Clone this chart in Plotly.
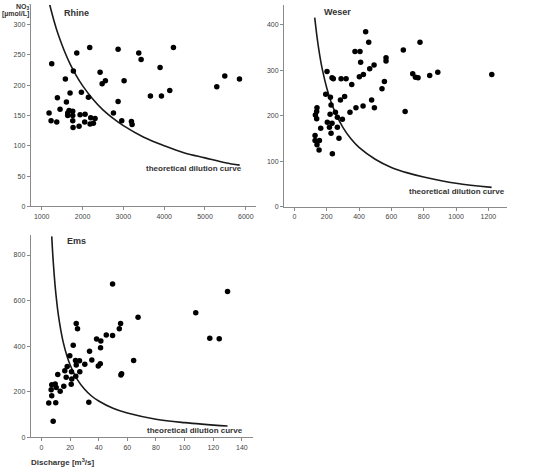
import plotly.graph_objects as go

# ---------------- data ----------------
rhine_q = [1180, 1245, 1229, 1368, 1384, 1449, 1580, 1605, 1694, 1776, 1858, 1637, 1670, 1760,
           1760, 1637, 1760, 1768, 1915, 1972, 1940, 2062, 2053, 2144, 2176, 2200, 2185, 2266,
           2307, 2430, 2480, 2560, 2757, 2871, 2871, 2961, 3018, 3198, 3214, 3377, 3435, 3663,
           3900, 3933, 4137, 4227, 5289, 5485, 5845]
rhine_no3 = [154, 235, 141, 139, 179, 160, 210, 172, 187, 223, 253, 154, 158, 157,
             150, 150, 141, 130, 132, 188, 151, 152, 139, 180, 262, 146, 136, 137,
             145, 221, 202, 207, 154, 173, 259, 141, 207, 140, 135, 253, 242, 182,
             229, 182, 191, 262, 197, 215, 210]

weser_q = [202, 194, 223, 227, 221, 204, 217, 233, 227, 235, 233, 241, 254, 266, 266, 276,
           289, 320, 285, 311, 297, 355, 344, 375, 406, 381, 410, 402, 427, 425, 441, 460,
           466, 478, 493, 495, 542, 557, 567, 567, 674, 685, 732, 749, 765, 777, 837, 887,
           1221, 140, 138, 130, 138, 128, 128, 140, 155, 153, 163]
weser_no3 = [298, 248, 241, 224, 204, 186, 175, 184, 162, 117, 284, 282, 208, 197, 175, 151,
             282, 282, 235, 243, 193, 269, 208, 342, 342, 218, 318, 286, 291, 222, 385, 362,
             304, 235, 312, 218, 260, 276, 328, 321, 345, 210, 293, 285, 284, 362, 289, 296,
             291, 218, 210, 202, 194, 157, 146, 137, 146, 125, 173]

ems_q = [5.1, 7.2, 6.8, 7.2, 8.2, 10.0, 9.6, 10.3, 11.4, 13.1, 15.6, 16.3, 17.3, 18.0, 19.8,
         21.0, 21.2, 20.8, 22.2, 23.8, 24.3, 24.0, 24.3, 25.2, 26.6, 26.8, 30.3, 33.1, 33.6,
         35.2, 38.5, 39.7, 41.1, 41.3, 41.5, 45.3, 49.7, 49.7, 54.4, 55.3, 55.5, 56.0, 64.4,
         67.5, 107.8, 117.6, 124.2, 130.0]
ems_no3 = [150, 182, 208, 230, 70, 151, 234, 218, 275, 202, 224, 292, 263, 311, 358,
           287, 256, 233, 404, 337, 317, 268, 499, 476, 336, 288, 320, 154, 378,
           339, 431, 313, 323, 393, 422, 449, 673, 447, 476, 499, 273, 279, 337,
           527, 547, 435, 432, 640]

# theoretical dilution curves
rhine_curve_q = [1190, 1300, 1400, 1550, 1700, 1850, 2000, 2250, 2500, 2750, 3000, 3500, 4000, 4500, 5000, 5500, 5850]
rhine_curve_c = [334, 306, 284, 257, 234, 215, 199, 177, 159, 145, 133, 114, 100, 88, 80, 72, 68]

weser_curve_q = [126, 138, 150, 162, 175, 200, 225, 250, 300, 350, 400, 500, 600, 700, 800, 1000, 1220]
weser_curve_c = [416, 380, 349, 323, 299, 262, 233, 210, 175, 150, 131, 105, 87, 75, 66, 52, 43]

ems_curve_q = [7.2, 8, 9, 10, 12, 15, 18, 20, 25, 30, 35, 40, 50, 60, 80, 100, 130]
ems_curve_c = [882, 794, 706, 635, 529, 423, 353, 318, 254, 212, 181, 159, 127, 106, 79, 64, 49]

# ---------------- figure ----------------
W, H = 542, 476
FONT = "Liberation Sans, Arial, Helvetica, sans-serif"
AXC = "#8a8a8a"
TXT = "#333333"

def px(x0, x1):
    return [x0 / W, x1 / W]

def py(top, bottom):
    return [1 - bottom / H, 1 - top / H]

fig = go.Figure()

panels = [
    ("x", "y", rhine_q, rhine_no3, rhine_curve_q, rhine_curve_c),
    ("x2", "y2", weser_q, weser_no3, weser_curve_q, weser_curve_c),
    ("x3", "y3", ems_q, ems_no3, ems_curve_q, ems_curve_c),
]
for xa, ya, q, c, cq, cc in panels:
    fig.add_trace(go.Scatter(x=cq, y=cc, mode="lines", xaxis=xa, yaxis=ya,
                             line=dict(color="#1a1a1a", width=1.6, shape="spline", smoothing=1.0),
                             hoverinfo="skip", showlegend=False))
    fig.add_trace(go.Scatter(x=q, y=c, mode="markers", xaxis=xa, yaxis=ya,
                             marker=dict(color="#000000", size=5.5),
                             showlegend=False))

def ax(domain, rng, ticks, anchor):
    return dict(domain=domain, range=rng, anchor=anchor, tickvals=ticks,
                showline=True, linecolor=AXC, linewidth=1, ticks="outside",
                ticklen=3, tickcolor=AXC, tickwidth=1, showgrid=False, zeroline=False,
                tickfont=dict(size=7, color="#444444", family=FONT))

fig.update_layout(
    width=W, height=H, margin=dict(l=0, r=0, t=0, b=0),
    paper_bgcolor="white", plot_bgcolor="white",
    font=dict(family=FONT),
    xaxis=ax(px(30.7, 256), [730, 6250], [1000, 2000, 3000, 4000, 5000, 6000], "y"),
    yaxis=ax(py(5, 207.7), [0, 332], [0, 50, 100, 150, 200, 250, 300], "x"),
    xaxis2=ax(px(284, 507.3), [-64, 1317], [0, 200, 400, 600, 800, 1000, 1200], "y2"),
    yaxis2=ax(py(5, 208.3), [0, 444], [0, 100, 200, 300, 400], "x2"),
    xaxis3=ax(px(30.7, 253.3), [-7.5, 148], [0, 20, 40, 60, 80, 100, 120, 140], "y3"),
    yaxis3=ax(py(236, 440), [0, 890], [0, 200, 400, 600, 800], "x3"),
)

def note(text, x, y, xref, yref, size, xanchor="left", yanchor="middle"):
    fig.add_annotation(text=text, x=x, y=y, xref=xref, yref=yref, showarrow=False,
                       xanchor=xanchor, yanchor=yanchor,
                       font=dict(size=size, color=TXT, family=FONT))

note("<b>Rhine</b>", 1498, 319, "x", "y", 9)
note("<b>Weser</b>", 173, 428, "x2", "y2", 9)
note("<b>Ems</b>", 16.6, 861, "x3", "y3", 9)
note("<b>theoretical dilution curve</b>", 5958, 63, "x", "y", 8, xanchor="right")
note("<b>theoretical dilution curve</b>", 1316, 34, "x2", "y2", 8, xanchor="right")
note("<b>theoretical dilution curve</b>", 141.9, 29, "x3", "y3", 8, xanchor="right")
note("<b>Discharge [m<sup>3</sup>/s]</b>", 29 / W, 1 - 465 / H, "paper", "paper", 8)
note("<b>NO<sub>3</sub><sup>-</sup></b>", 23 / W, 1.0, "paper", "paper", 7, xanchor="center", yanchor="top")
note("<b>[µmol/L]</b>", 30.5 / W, 1 - 14 / H, "paper", "paper", 7, xanchor="right")

fig.write_html("out.html")
